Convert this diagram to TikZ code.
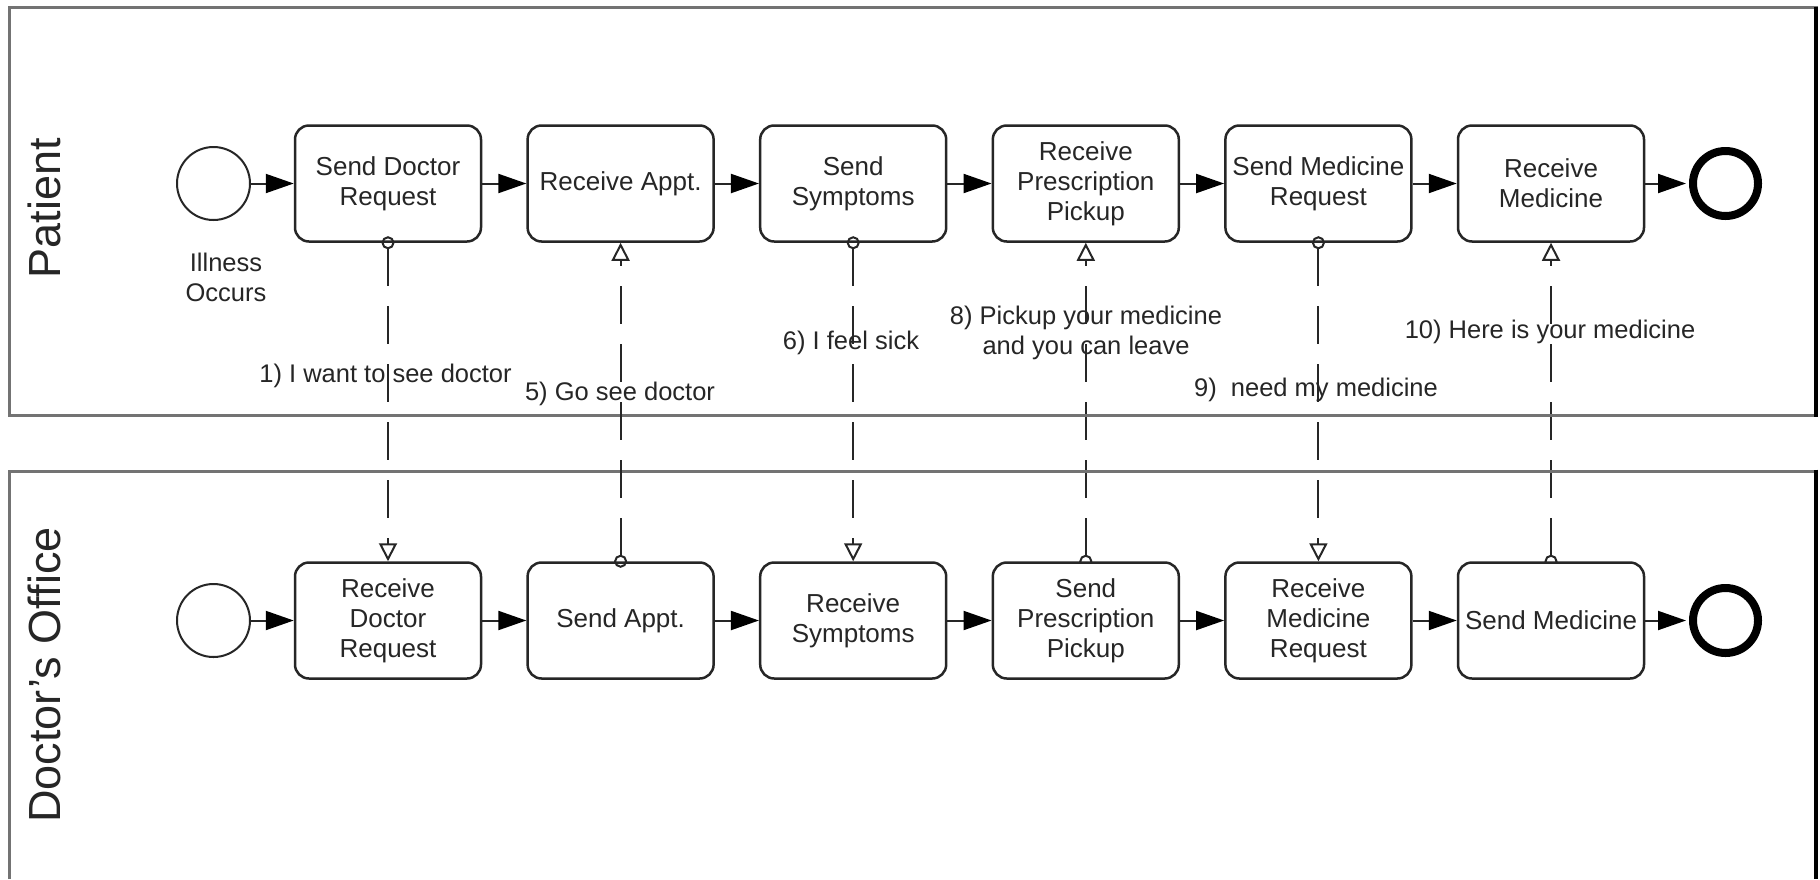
\documentclass[tikz,border=0pt]{standalone}
\usepackage{fontspec}
\setmainfont{Liberation Sans}
\usetikzlibrary{arrows.meta}
\pgfdeclarelayer{behind}
\pgfsetlayers{behind,main}
\begin{document}
\begin{tikzpicture}[x=1pt,y=-1pt,
 task/.style={draw=black!85, line width=2.5pt, rounded corners=14pt, minimum width=186pt, minimum height=116pt, align=center, font=\fontsize{26}{30}\selectfont, text=black!85, fill=white, inner sep=0pt},
 startev/.style={circle, draw=black!85, line width=2pt, minimum size=73pt, inner sep=0pt, fill=white},
 endev/.style={circle, draw=black, line width=8pt, minimum size=65pt, inner sep=0pt, fill=white},
 seq/.style={draw=black!85, line width=2pt, -{Triangle[length=28pt,width=19pt,fill=black,color=black]}},
 msg/.style={draw=black!85, line width=2pt, dash pattern=on 38pt off 20pt, {Circle[open,length=13pt,width=13pt]}-{Triangle[open,length=18pt,width=18pt]}, shorten <=-6.5pt},
 lbl/.style={font=\fontsize{25.5}{30}\selectfont, text=black!85, align=center, inner sep=0pt},
 lane/.style={draw=black!55, line width=3pt},
 laneedge/.style={draw=black, line width=4pt},
 lanetitle/.style={rotate=90, font=\fontsize{45}{54}\selectfont, text=black!85, inner sep=0pt}
]
\useasboundingbox (0,0) rectangle (1820,879);
\begin{pgfonlayer}{behind}
\fill[white] (0,0) rectangle (1820,879);
\end{pgfonlayer}
% lanes
\draw[lane] (9,7) rectangle (1816,415);
\draw[lane] (9,879) -- (9,471) -- (1816,471) -- (1816,879);
\draw[laneedge] (1816,7) -- (1816,416.5);
\draw[laneedge] (1816,469.5) -- (1816,879);
\node[lanetitle] (lp) at (44,208) {Patient};
\node[lanetitle] (ld) at (44,675) {Doctor’s Office};
% patient row
\node[startev] (ps) at (213.5,183.5) {};
\node[lbl] (ill) at (226,277) {Illness\\Occurs};
\node[task] (p1) at (388,183.5) {Send Doctor\\Request};
\node[task] (p2) at (620.6,183.5) {Receive Appt.};
\node[task] (p3) at (853.2,183.5) {Send\\Symptoms};
\node[task] (p4) at (1085.8,183.5) {Receive\\Prescription\\Pickup};
\node[task] (p5) at (1318.4,183.5) {Send Medicine\\Request};
\node[task] (p6) at (1551,183.5) {Receive\\Medicine};
\node[endev] (pe) at (1725.5,183.5) {};
% doctor row
\node[startev] (ds) at (213.5,620.5) {};
\node[task] (d1) at (388,620.5) {Receive\\Doctor\\Request};
\node[task] (d2) at (620.6,620.5) {Send Appt.};
\node[task] (d3) at (853.2,620.5) {Receive\\Symptoms};
\node[task] (d4) at (1085.8,620.5) {Send\\Prescription\\Pickup};
\node[task] (d5) at (1318.4,620.5) {Receive\\Medicine\\Request};
\node[task] (d6) at (1551,620.5) {Send Medicine};
\node[endev] (de) at (1725.5,620.5) {};
% sequence flows
\draw[seq] (ps) -- (p1);
\draw[seq] (p1) -- (p2);
\draw[seq] (p2) -- (p3);
\draw[seq] (p3) -- (p4);
\draw[seq] (p4) -- (p5);
\draw[seq] (p5) -- (p6);
\draw[seq, shorten >=3pt] (p6) -- (pe);
\draw[seq] (ds) -- (d1);
\draw[seq] (d1) -- (d2);
\draw[seq] (d2) -- (d3);
\draw[seq] (d3) -- (d4);
\draw[seq] (d4) -- (d5);
\draw[seq] (d5) -- (d6);
\draw[seq, shorten >=3pt] (d6) -- (de);
% message flows
\draw[msg] (p1.south) -- (d1.north);
\draw[msg] (d2.north) -- (p2.south);
\draw[msg] (p3.south) -- (d3.north);
\begin{pgfonlayer}{behind}
\draw[msg] (d4.north) -- (p4.south);
\draw[msg] (d6.north) -- (p6.south);
\end{pgfonlayer}
\draw[msg] (p5.south) -- (d5.north);
% message labels
\node[lbl] (m1) at (385.5,376) {1) I want to see doctor};
\node[lbl] (m5) at (620,394) {5) Go see doctor};
\node[lbl] (m6) at (851,343) {6) I feel sick};
\node[lbl] (m8) at (1086,333) {8) Pickup your medicine\\and you can leave};
\node[lbl] (m9) at (1316,390) {9)\ \ need my medicine};
\node[lbl] (m10) at (1550,332) {10) Here is your medicine};
\end{tikzpicture}
\end{document}
